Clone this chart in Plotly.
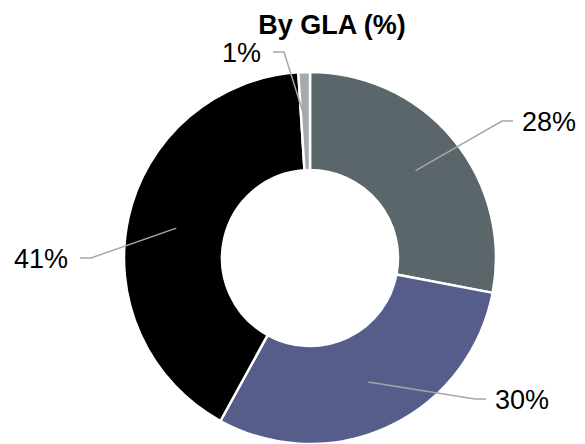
import math
import plotly.graph_objects as go

# Share of gross leasable area by segment
segments = ["Segment A", "Segment B", "Segment C", "Segment D"]
gla_share = [28, 30, 41, 1]
label_text = [f"{v}%" for v in gla_share]

colors = ["#5b666b", "#565d8b", "#000000", "#a4aaad"]

W, H = 585, 444
# donut geometry in pixels
cx, cy, R = 310, 258, 186
hole = 0.473

# label placement: (elbow x, elbow y, side) in pixels
label_layout = [
    (502, 121, "right"),
    (475, 399, "right"),
    (91, 258, "left"),
    (284, 52, "left"),
]

fig = go.Figure(
    go.Pie(
        labels=segments,
        values=gla_share,
        sort=False,
        direction="clockwise",
        rotation=0,
        hole=hole,
        marker=dict(colors=colors, line=dict(color="white", width=2.5)),
        textinfo="none",
        showlegend=False,
        domain=dict(x=[(cx - R) / W, (cx + R) / W], y=[(H - cy - R) / H, (H - cy + R) / H]),
    )
)

def px(x, y):
    return x / W, 1 - y / H

total = sum(gla_share)
cum = 0
r_mid = R * (1 + hole) / 2
shapes, annotations = [], []
for v, txt, (ex, ey, side) in zip(gla_share, label_text, label_layout):
    ang = math.radians((cum + v / 2) / total * 360)
    cum += v
    sx = cx + r_mid * math.sin(ang)
    sy = cy - r_mid * math.cos(ang)
    step = 11 if side == "right" else -11
    tx = ex + step
    p0, p1, p2 = px(sx, sy), px(ex, ey), px(tx, ey)
    shapes.append(dict(
        type="path", xref="paper", yref="paper",
        path=f"M {p0[0]},{p0[1]} L {p1[0]},{p1[1]} L {p2[0]},{p2[1]}",
        line=dict(color="#a6a6a6", width=1.5),
    ))
    gap = 7 if side == "right" else -10
    ax, ay = px(tx + gap, ey + 1)
    annotations.append(dict(
        x=ax, y=ay, xref="paper", yref="paper", text=txt, showarrow=False,
        xanchor="left" if side == "right" else "right", yanchor="middle",
        font=dict(family="Liberation Sans, Arial, sans-serif", size=27, color="black"),
    ))

fig.update_layout(
    width=W, height=H, autosize=False,
    margin=dict(l=0, r=0, t=0, b=0),
    paper_bgcolor="white", plot_bgcolor="white",
    title=dict(
        text="<b>By GLA (%)</b>",
        x=332 / W, y=1 - 25 / H, xanchor="center", yanchor="middle",
        font=dict(family="Liberation Sans, Arial, sans-serif", size=27, color="black"),
    ),
    shapes=shapes,
    annotations=annotations,
)

fig.write_html("out.html")
